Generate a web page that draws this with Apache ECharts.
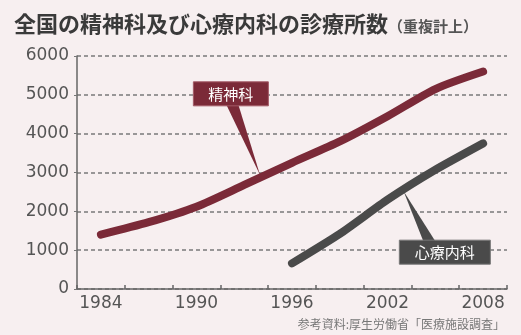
<!DOCTYPE html>
<html>
<head>
<meta charset="utf-8">
<script src="https://cdn.jsdelivr.net/npm/echarts@6/dist/echarts.min.js"></script>
<style>
html,body{margin:0;padding:0;background:#f7eff0;}
#c{width:521px;height:335px;}
</style>
</head>
<body>
<div id="c"></div>
<script>
// ---- data ----
const categories = [];
for (let y = 1983; y <= 2009; y++) categories.push(String(y));
const tickLabels = ['1984', '1990', '1996', '2002', '2008'];
const yTicks = [0, 1000, 2000, 3000, 4000, 5000, 6000];
const psychYears = ['1984', '1987', '1990', '1993', '1996', '1999', '2002', '2005', '2008'];
const psychValues = [1400, 1720, 2120, 2680, 3250, 3800, 4450, 5150, 5600];
const psychoSomYears = ['1996', '1999', '2002', '2005', '2008'];
const psychoSomValues = [660, 1420, 2300, 3070, 3750];
const seriesNames = ['精神科', '心療内科'];

const chart = echarts.init(document.getElementById('c'), null, {renderer: 'canvas'});
const numFont = 'DejaVu Sans';
const jpFont = '"Noto Sans CJK JP", sans-serif';

const option = {
  backgroundColor: '#f7eff0',
  animation: false,
  title: {
    left: 9, top: 8,
    text: '{a|全国の精神科及び心療内科の診療所数}{b|（重複計上）}',
    textStyle: {
      rich: {
        a: {fontFamily: jpFont, fontSize: 22, fontWeight: 'bold', color: '#3a3a3a'},
        b: {fontFamily: jpFont, fontSize: 15, fontWeight: 'bold', color: '#555', padding: [4, 0, 0, 0]}
      }
    }
  },
  grid: {left: 77, right: 14, top: 56, bottom: 46, containLabel: false},
  xAxis: {
    type: 'category',
    data: categories,
    boundaryGap: true,
    axisLine: {show: true, lineStyle: {color: '#666', width: 1.5}},
    axisTick: {show: true, inside: true, length: 4, interval: (i) => i % 3 === 0, lineStyle: {color: '#666', width: 1.5}},
    axisLabel: {
      interval: (i, v) => tickLabels.includes(v),
      fontFamily: numFont, fontSize: 17, color: '#555', margin: 6
    },
    splitLine: {show: false}
  },
  yAxis: {
    type: 'value',
    min: yTicks[0], max: yTicks[yTicks.length - 1], interval: 1000,
    axisLine: {show: true, lineStyle: {color: '#666', width: 1.5}},
    axisTick: {show: true, length: 3, lineStyle: {color: '#777'}},
    axisLabel: {fontFamily: numFont, fontSize: 17, color: '#555', margin: 8, formatter: (v) => String(v)},
    splitLine: {show: true, lineStyle: {color: '#7a7a7a', width: 1.5, type: [4, 3]}}
  },
  series: [
    {
      name: seriesNames[0], type: 'line', smooth: 0.25, symbol: 'none', z: 3,
      data: psychYears.map((y, i) => [y, psychValues[i]]),
      lineStyle: {color: '#7b2a38', width: 8, cap: 'round', join: 'round'}
    },
    {
      name: seriesNames[1], type: 'line', smooth: 0.2, symbol: 'none', z: 3,
      data: psychoSomYears.map((y, i) => [y, psychoSomValues[i]]),
      lineStyle: {color: '#4a4a4a', width: 8, cap: 'round', join: 'round'}
    }
  ]
};
chart.setOption(option);

// callouts positioned via the chart's own scales
const p1 = chart.convertToPixel({gridIndex: 0}, ['1994', 2850]);
const b1 = chart.convertToPixel({gridIndex: 0}, ['1991', 5000]);
const p2 = chart.convertToPixel({gridIndex: 0}, ['2003', 2600]);
const b2 = chart.convertToPixel({gridIndex: 0}, ['2005', 1000]);

chart.setOption({
  graphic: [
    {type: 'polygon', z: 10, shape: {points: [[b1[0] + 14, b1[1] + 10], [b1[0] + 26, b1[1] + 10], [p1[0], p1[1] - 3]]}, style: {fill: '#7b2a38'}},
    {type: 'rect', z: 11, shape: {x: b1[0] - 19, y: b1[1] - 13, width: 75, height: 24}, style: {fill: '#7b2a38', stroke: '#a35a66', lineWidth: 1}},
    {type: 'text', z: 12, style: {x: b1[0] + 18.5, y: b1[1] - 1, text: seriesNames[0], fill: '#fff', font: '15px ' + jpFont, align: 'center', verticalAlign: 'middle'}},
    {type: 'polygon', z: 10, shape: {points: [[p2[0], p2[1] + 3], [b2[0] - 12, b2[1] - 9], [b2[0], b2[1] - 9]]}, style: {fill: '#4a4a4a'}},
    {type: 'rect', z: 11, shape: {x: b2[0] - 36, y: b2[1] - 10, width: 91, height: 24}, style: {fill: '#4a4a4a', stroke: '#777', lineWidth: 1}},
    {type: 'text', z: 12, style: {x: b2[0] + 9.5, y: b2[1] + 2, text: seriesNames[1], fill: '#fff', font: '15px ' + jpFont, align: 'center', verticalAlign: 'middle'}},
    {type: 'text', z: 12, style: {x: 505, y: 324, text: '参考資料:厚生労働省「医療施設調査」', fill: '#777', font: '12px ' + jpFont, align: 'right', verticalAlign: 'middle'}}
  ]
});
</script>
</body>
</html>
